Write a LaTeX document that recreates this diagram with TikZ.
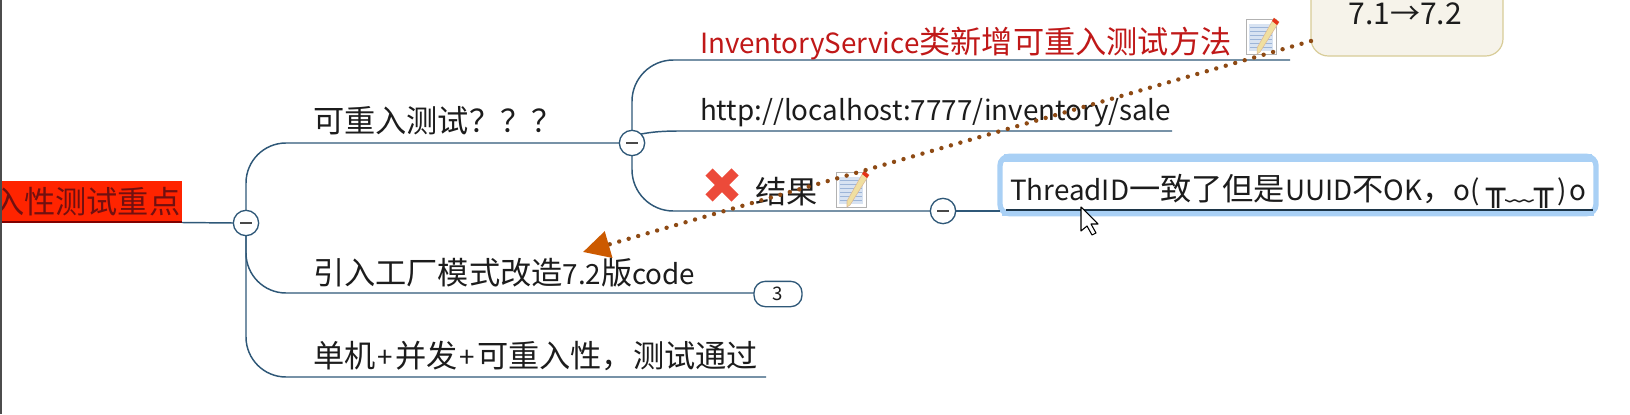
\documentclass[tikz,border=0pt]{standalone}
\usepackage{fontspec}
\setmainfont{Noto Sans CJK SC}
\newfontfamily\boxfont{DejaVu Sans}
\newcommand\K[1]{{\fontsize{23.4}{24}\selectfont #1}}
\newcommand\Pl{\hspace{1.6pt}+\hspace{1.6pt}}
\usetikzlibrary{arrows.meta}
\definecolor{linec}{HTML}{2F5878}
\definecolor{inkc}{HTML}{1C1C1C}
\definecolor{redt}{HTML}{C01818}
\definecolor{hl}{HTML}{A9D0F5}
\definecolor{notef}{HTML}{F6F3EA}
\definecolor{noted}{HTML}{D8CC98}
\definecolor{dotc}{HTML}{8E4A14}
\definecolor{arrowc}{HTML}{CC5A00}
\definecolor{rootf}{HTML}{FF2400}
\definecolor{roott}{HTML}{701010}
\definecolor{iconp}{HTML}{D8E3F2}
\definecolor{iconl}{HTML}{9DB5D8}
\definecolor{penc}{HTML}{F0DFA0}
\definecolor{xred}{HTML}{EC4A3A}
\tikzset{
  every node/.style={inner sep=0pt,outer sep=0pt},
  lbl/.style={anchor=base west,text=inkc,font=\fontsize{20.85}{24}\selectfont},
  lblred/.style={lbl,text=redt},
  branch/.style={draw=linec,line width=1.1pt},
  toggle/.style={circle,draw=linec,fill=white,line width=1pt,minimum size=19pt},
  pill/.style={rounded corners=8.5pt,draw=linec,fill=white,line width=1pt,minimum width=36pt,minimum height=19pt,font=\fontsize{14}{16}\selectfont,text=inkc},
  notelink/.style={draw=dotc,line width=3.3pt,line cap=round,dash pattern=on 0pt off 7.4pt},
  noteicon/.pic={
    \draw[fill=white,draw=gray!60,line width=.6pt] (0,0) rectangle (30,35);
    \fill[iconp] (3,5) rectangle (27,32);
    \foreach \yy in {8,12,16,20,24,28}{\draw[iconl,line width=.5pt] (4,\yy) -- (26,\yy);}
    \fill[penc,draw=brown!55,line width=.4pt] (28,-1) -- (33,3) -- (14,33) -- (11,35) -- (11,29) -- cycle;
    \fill[red!60!brown] (28,-1) -- (33,3) -- (31,6) -- (26,2) -- cycle;
  }
}
\begin{document}
\begin{tikzpicture}[x=0.75pt,y=-0.75pt]
\useasboundingbox (0,0) rectangle (1630,414);
\clip (0,0) rectangle (1630,414);
\fill[white] (0,0) rectangle (1630,414);
% window edge
\fill[black!70] (0,0) rectangle (2,414);
% root
\fill[rootf] (2,181) rectangle (182,222);
\draw[red!50!black,line width=.8pt] (2,222) -- (182,222);
\begin{scope}
\clip (2,170) rectangle (186,230);
\node[lbl,text=roott] (root) at (-7,213) {\K{入性测试重点}};
\end{scope}
\coordinate (rootend) at (182,222.5);
% toggles positions
\node[toggle] (t1) at (246,223) {};
\node[toggle] (t2) at (632,143) {};
\node[toggle] (t3) at (943,211) {};
% level 1 branches
\coordinate (e2) at (755,293);
\coordinate (e3) at (766,377);
\draw[branch] (rootend) -- (t1.west);
\draw[branch,rounded corners=30pt] (t1.north) |- (t2.west);
\draw[branch,rounded corners=30pt] (t1.south) |- (e2);
\draw[branch,rounded corners=30pt] (t1.south) |- (e3);
% level 2 branches
\coordinate (f1) at (1290,60);
\coordinate (f2) at (1172,131);
\draw[branch,rounded corners=31pt] (t2.north) |- (f1);
\draw[branch] (t2.north east) .. controls (652,132) and (662,131) .. (680,131) -- (f2);
\draw[branch,rounded corners=31pt] (t2.south) |- (t3.west);
% highlighted box
\node[draw=hl,line width=4pt,rounded corners=7pt,fill=white,minimum width=447pt,minimum height=43pt] (sel) at (1298,185) {};
\fill[hl] (1004,154) rectangle (1592,162);
\draw[hl,line width=4pt] (1002,213) -- (1594,213);
\draw[branch] (t3.east) -- (t3.east -| sel.west);
\draw[linec!60!black,line width=1.1pt] (1006,210) -- (1593,210);
% pill
\node[pill] (p3) at (778,294) {3};
% toggle minus signs
\draw[inkc!80,line width=1.1pt] (240,223) -- (252,223);
\draw[inkc!80,line width=1.1pt] (626,143) -- (638,143);
\draw[inkc!80,line width=1.1pt] (937,211) -- (949,211);
% texts
\node[lbl] (a1) at (313,132) {\K{可重入测试？？？}};
\node[lbl] (a3) at (313,367) {\K{单机}\Pl\K{并发}\Pl\K{可重入性，测试通过}};
\node[lblred] (b1) at (700,53) {InventoryService\K{类新增可重入测试方法}};
\node[lbl] (b2) at (700,120) {http://localhost:7777/inventory/sale};
\node[lbl] (b3) at (755,203) {\K{结果}};
\node[lbl] (c1) at (1010,200.5) {ThreadID\K{一致了但是}UUID\K{不}OK\K{，}o(\hspace{5pt}{\boxfont\fontsize{24}{24}\selectfont ╥}{\fontsize{21.5}{24}\selectfont ﹏}{\boxfont\fontsize{24}{24}\selectfont ╥}\hspace{3pt})\hspace{2pt}o};
% icons
\draw[line width=7.5pt,draw=xred] (709,172) -- (735,198) (735,172) -- (709,198);
\pic at (836,172) {noteicon};
\pic at (1246,19) {noteicon};
% callout
\node[draw=noted,fill=notef,line width=.9pt,rounded corners=13pt,minimum width=144pt,minimum height=57pt] (note) at (1407,18) {};
\node[text=inkc,font=\fontsize{22.5}{24}\selectfont,anchor=base] (notet) at (1405,24) {7.1→7.2};
\coordinate (tip) at (583,252);
\coordinate (nstart) at (1311,41);
\draw[notelink,-{Triangle[length=20pt,width=20pt,color=arrowc]}] (nstart) -- (tip);
% text over arrow
\node[lbl] (a2) at (313,284) {\K{引入工厂模式改造}7.2\K{版}code};
% cursor
\node[fill=none,minimum size=1pt] (curs) at (1081,207) {};
\draw[fill=white,draw=black,line width=.8pt,line join=round] (curs.center) -- ++(0,24) -- ++(6,-5) -- ++(5,9) -- ++(4,-2) -- ++(-5,-9) -- ++(7,0) -- cycle;
\end{tikzpicture}
\end{document}
